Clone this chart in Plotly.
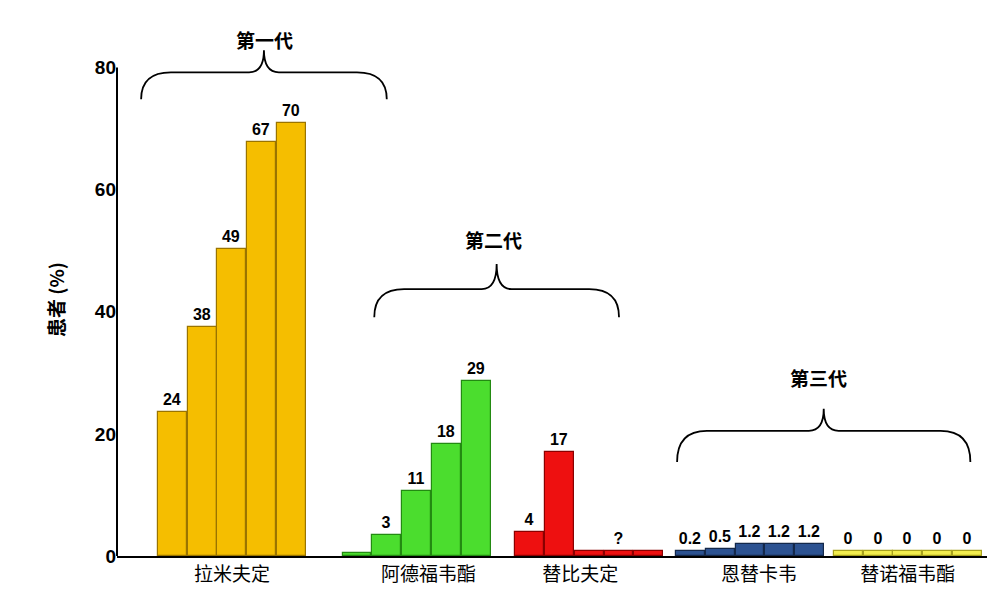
import plotly.graph_objects as go

# bar slots (one slot = one bar width)
lam_x = [0, 1, 2, 3, 4]
adf_x = [6.2, 7.2, 8.2, 9.2, 10.2]
tel_x = [12.0, 13.0, 14.0, 15.0, 16.0]
ent_x = [17.4, 18.4, 19.4, 20.4, 21.4]
ten_x = [22.7, 23.7, 24.7, 25.7, 26.7]

lam_y = [23.5, 37.5, 50.3, 67.8, 70.9]
adf_y = [0.5, 3.5, 10.7, 18.3, 28.7]
tel_y = [4.0, 17.0, 0.8, 0.8, 0.8]
ent_y = [0.8, 1.2, 2.0, 2.0, 2.0]
ten_y = [0.8, 0.8, 0.8, 0.8, 0.8]

lam_t = ["24", "38", "49", "67", "70"]
adf_t = ["", "3", "11", "18", "29"]
tel_t = ["4", "17", "", "?", ""]
ent_t = ["0.2", "0.5", "1.2", "1.2", "1.2"]
ten_t = ["0", "0", "0", "0", "0"]

drugs = ["拉米夫定", "阿德福韦酯", "替比夫定", "恩替卡韦", "替诺福韦酯"]
drug_pos = [2, 8.6, 13.7, 19.7, 24.7]

fig = go.Figure()
series = [
    (lam_x, lam_y, lam_t, "#F5BE00", "#9A7400"),
    (adf_x, adf_y, adf_t, "#4BDD2E", "#238A12"),
    (tel_x, tel_y, tel_t, "#EE1010", "#8A0000"),
    (ent_x, ent_y, ent_t, "#2C5291", "#14284A"),
    (ten_x, ten_y, ten_t, "#F3EE4E", "#A8A21E"),
]
for xs, ys, ts, col, edge in series:
    fig.add_trace(go.Bar(x=xs, y=ys, text=["<b>%s</b>" % t if t else "" for t in ts],
                         textposition="outside", width=0.97,
                         marker=dict(color=col, line=dict(color=edge, width=1.2)),
                         textfont=dict(size=16, color="black", family="Liberation Sans"),
                         cliponaxis=False, showlegend=False))


def bracket(x0, x1, yb, yl, yp):
    xc = (x0 + x1) / 2
    d = 0.5
    return (f"M {x0},{yb} Q {x0},{yl} {x0+d*2},{yl} L {xc-d},{yl} "
            f"Q {xc},{yl} {xc},{yp} Q {xc},{yl} {xc+d},{yl} L {x1-d*2},{yl} Q {x1},{yl} {x1},{yb}")


for x0, x1, yb, yl, yp in [(-1.05, 7.2, 74.8, 79.2, 82.8),
                           (6.78, 15.0, 39.1, 43.7, 47.8),
                           (16.95, 26.8, 15.4, 20.5, 24.1)]:
    fig.add_shape(type="path", xref="x", yref="y", path=bracket(x0, x1, yb, yl, yp),
                  line=dict(color="black", width=1.8))

# left axis line only up to 80
fig.add_shape(type="line", xref="paper", yref="y", x0=0, x1=0, y0=0, y1=80,
              line=dict(color="black", width=2))

fnt = dict(size=19, color="black", family="Noto Sans CJK SC")
fig.add_annotation(x=3.1, y=1.037, xref="x", yref="paper", text="<b>第一代</b>", showarrow=False, font=fnt)
fig.add_annotation(x=10.8, y=51.9, text="<b>第二代</b>", showarrow=False, font=fnt)
fig.add_annotation(x=21.7, y=29.2, text="<b>第三代</b>", showarrow=False, font=fnt)

fig.update_layout(
    width=995, height=605, plot_bgcolor="white", paper_bgcolor="white",
    margin=dict(l=109, r=10, t=35, b=57), bargap=0,
    xaxis=dict(range=[-1.86, 27.56], tickvals=drug_pos, ticktext=drugs, showgrid=False,
               showline=True, linecolor="black", linewidth=2, ticks="",
               tickfont=dict(size=19, color="black", family="Noto Sans CJK SC")),
    yaxis=dict(range=[0, 84], tickvals=[0, 20, 40, 60, 80], showgrid=False, zeroline=False,
               ticks="", tickfont=dict(size=19, color="black", family="Liberation Sans"),
               ticktext=["<b>0</b>", "<b>20</b>", "<b>40</b>", "<b>60</b>", "<b>80</b>"],
               title=dict(text="<b>患者 (%)</b>", standoff=25,
                          font=dict(size=19, color="black", family="Noto Sans CJK SC"))),
)
fig.write_html("out.html")
